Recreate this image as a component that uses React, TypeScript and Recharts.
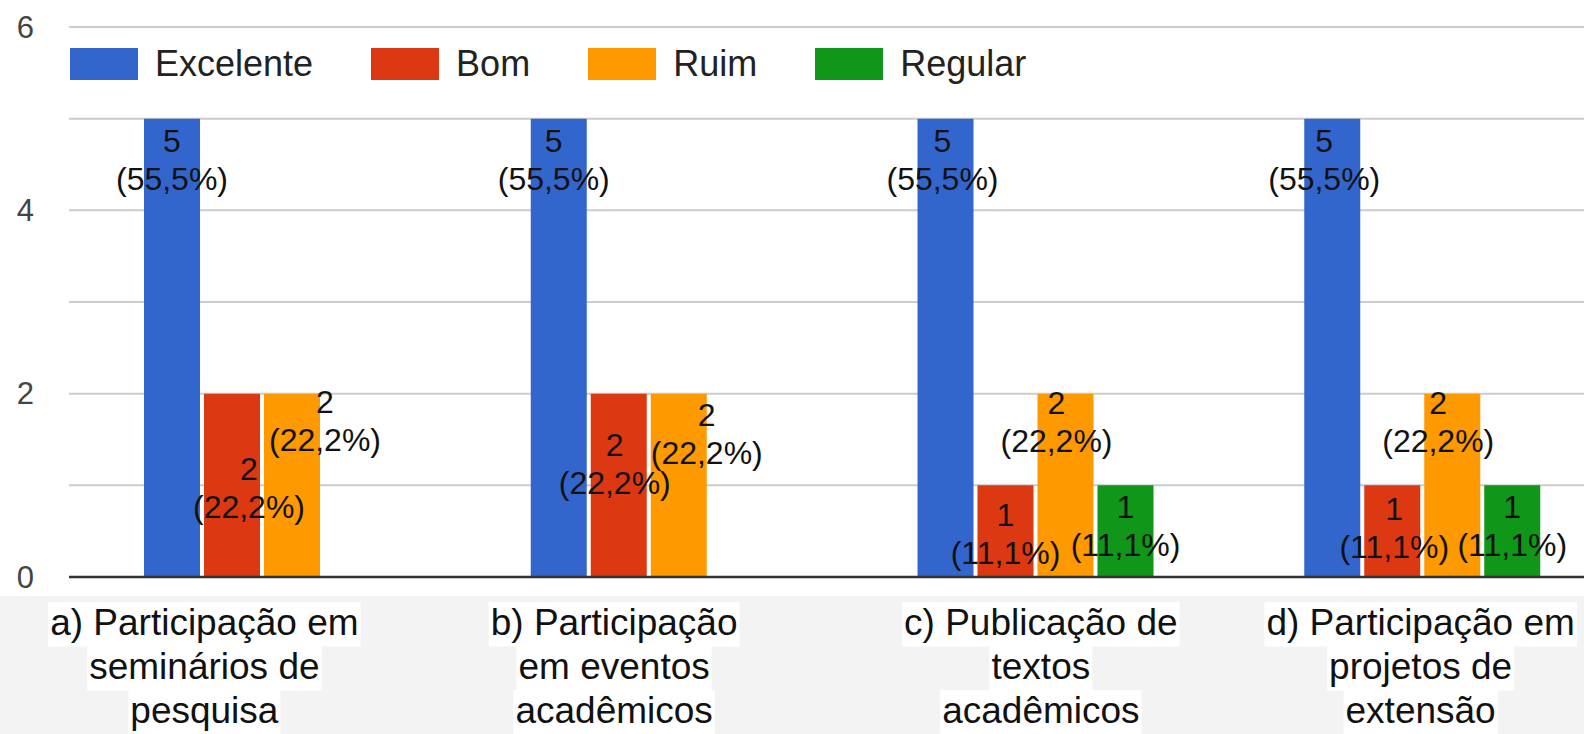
import React from "react"
import { Bar, BarChart, CartesianGrid, LabelList, XAxis, YAxis } from "recharts"

const categories = [
  "a) Participação em\nseminários de\npesquisa",
  "b) Participação\nem eventos\nacadêmicos",
  "c) Publicação de\ntextos\nacadêmicos",
  "d) Participação em\nprojetos de\nextensão",
]
const excelente = [5, 5, 5, 5]
const bom = [2, 2, 1, 1]
const ruim = [2, 2, 2, 2]
const regular = [0, 0, 1, 1]
const yTicks = [0, 1, 2, 3, 4, 5, 6]

const series = [
  { key: "Excelente", values: excelente, color: "#3366cc" },
  { key: "Bom", values: bom, color: "#dc3912" },
  { key: "Ruim", values: ruim, color: "#ff9900" },
  { key: "Regular", values: regular, color: "#109618" },
]

// google charts shuffles overlapping labels around; mimic that per bar
const labelNudge: Record<string, [number, number][]> = {
  Excelente: [[0, 0], [-5, 0], [-3, 0], [-8, 0]],
  Bom: [[17, 53], [-4, 29], [0, 8], [2, 2]],
  Ruim: [[33, -14], [28, -1], [-9, -13], [-14, -13]],
  Regular: [[0, 0], [0, 0], [8, 7], [0, 7]],
}
// category labels are pushed sideways as well
const tickShift = [-58, -35, 5, -2]

const data = categories.map((name, i) => {
  const row: { [k: string]: number | string } = { name }
  series.forEach((s) => (row[s.key] = s.values[i]))
  return row
})

const totals = categories.map((_, i) => series.reduce((acc, s) => acc + s.values[i], 0))

const FONT = "'Liberation Sans', Arial, sans-serif"

let ctx: CanvasRenderingContext2D | null = null
function textWidth(t: string, size: number) {
  if (!ctx) ctx = document.createElement("canvas").getContext("2d")
  if (!ctx) return t.length * size * 0.5
  ctx.font = `${size}px ${FONT}`
  return ctx.measureText(t).width
}

const pct = (v: number, total: number) =>
  (Math.floor((v / total) * 1000) / 10).toFixed(1).replace(".", ",")

function makeLabel(key: string) {
  return (props: any) => {
    const { x, y, width, value, index } = props
    if (!value) return null
    const [dx, dy] = labelNudge[key][index] || [0, 0]
    const cx = Number(x) + Number(width) / 2 + dx
    const y1 = Number(y) + 22 + dy
    return (
      <g>
        <text x={cx} y={y1} textAnchor="middle" dominantBaseline="central" fontSize={32} fontFamily={FONT} fill="#111">
          {value}
        </text>
        <text x={cx} y={y1 + 38} textAnchor="middle" dominantBaseline="central" fontSize={32} fontFamily={FONT} fill="#111">
          ({pct(value, totals[index])}%)
        </text>
      </g>
    )
  }
}

const CategoryTick = (props: any) => {
  const { x, y, payload, index } = props
  const lines = String(payload.value).split("\n")
  const size = 37
  const cx = x + (tickShift[index] || 0)
  return (
    <g>
      {lines.map((line, i) => {
        const w = textWidth(line, size) + 4
        const top = y + 25 + i * 44
        return (
          <g key={i}>
            <rect x={cx - w / 2} y={top} width={w} height={44.5} fill="#ffffff" />
            <text x={cx} y={top + 33} textAnchor="middle" fontSize={size} fontFamily={FONT} fill="#111">
              {line}
            </text>
          </g>
        )
      })}
    </g>
  )
}

const ValueTick = (props: any) => {
  const { x, y, payload } = props
  if (payload.value % 2 !== 0) return null
  return (
    <text x={x - 35} y={y} textAnchor="end" dominantBaseline="central" fontSize={31} fontFamily={FONT} fill="#444">
      {payload.value}
    </text>
  )
}

function ChartLegend() {
  return (
    <div style={{ position: "absolute", top: 48, left: 70, display: "flex", alignItems: "center", gap: 58 }}>
      {series.map((s) => (
        <div key={s.key} style={{ display: "flex", alignItems: "center" }}>
          <span style={{ width: 68, height: 32, background: s.color, marginRight: 17, display: "inline-block" }} />
          <span style={{ fontSize: 36, fontFamily: FONT, color: "#222", lineHeight: "32px" }}>{s.key}</span>
        </div>
      ))}
    </div>
  )
}

export default function App() {
  return (
    <div
      style={{
        position: "absolute",
        top: 0,
        left: 0,
        width: 1584,
        height: 734,
        overflow: "hidden",
        background: "linear-gradient(to bottom, #ffffff 596px, #f3f3f3 596px)",
      }}
    >
      <BarChart
        width={1616}
        height={734}
        data={data}
        margin={{ top: 27, right: 0, left: 0, bottom: 0 }}
        barCategoryGap={75}
        barGap={4}
      >
        <CartesianGrid vertical={false} stroke="#cccccc" strokeWidth={2} />
        <XAxis
          dataKey="name"
          height={157}
          tickLine={false}
          tickSize={0}
          tickMargin={0}
          axisLine={{ stroke: "#333333", strokeWidth: 2.5 }}
          tick={<CategoryTick />}
          interval={0}
        />
        <YAxis
          width={69}
          domain={[0, 6]}
          ticks={yTicks}
          axisLine={false}
          tickLine={false}
          tickSize={0}
          tickMargin={0}
          tick={<ValueTick />}
        />
        {series.map((s) => (
          <Bar key={s.key} dataKey={s.key} name={s.key} fill={s.color} isAnimationActive={false}>
            <LabelList dataKey={s.key} content={makeLabel(s.key)} />
          </Bar>
        ))}
      </BarChart>
      <ChartLegend />
    </div>
  )
}
